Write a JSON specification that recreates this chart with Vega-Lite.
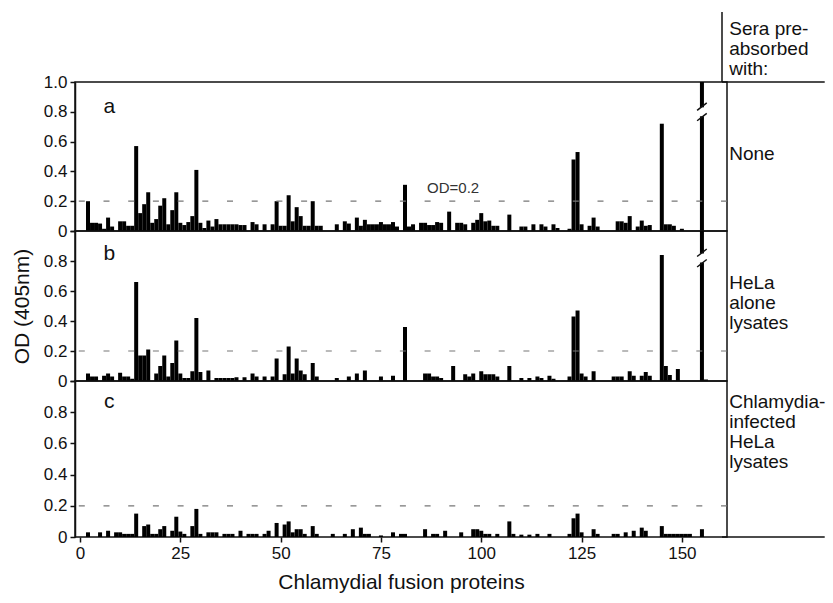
{
  "$schema": "https://vega.github.io/schema/vega-lite/v6.json",
  "padding": {"left": 10, "top": 10, "right": 0, "bottom": 4},
  "spacing": 0,
  "bounds": "flush",
  "config": {
    "font": "Liberation Sans",
    "view": {"stroke": "#111", "strokeWidth": 1.5},
    "axis": {"domainColor": "#111", "domainWidth": 1.5, "tickColor": "#111", "tickWidth": 1.5, "tickSize": 5, "labelFontSize": 17, "labelColor": "#111", "titleFontSize": 21, "titleFontWeight": "normal", "titleColor": "#111", "grid": false, "labelPadding": 3, "labelOverlap": false, "labelBound": false}
  },
  "datasets": {
    "bars": [
      {"panel":"a","protein":2,"od":0.2},{"panel":"a","protein":3,"od":0.055},{"panel":"a","protein":4,"od":0.055},{"panel":"a","protein":5,"od":0.05},{"panel":"a","protein":6,"od":0.015},{"panel":"a","protein":7,"od":0.09},{"panel":"a","protein":8,"od":0.03},{"panel":"a","protein":10,"od":0.065},{"panel":"a","protein":11,"od":0.065},{"panel":"a","protein":12,"od":0.035},{"panel":"a","protein":13,"od":0.035},{"panel":"a","protein":14,"od":0.57},{"panel":"a","protein":15,"od":0.12},{"panel":"a","protein":16,"od":0.18},{"panel":"a","protein":17,"od":0.26},{"panel":"a","protein":18,"od":0.055},{"panel":"a","protein":19,"od":0.08},{"panel":"a","protein":20,"od":0.17},{"panel":"a","protein":21,"od":0.22},{"panel":"a","protein":22,"od":0.045},{"panel":"a","protein":23,"od":0.14},{"panel":"a","protein":24,"od":0.26},{"panel":"a","protein":25,"od":0.055},{"panel":"a","protein":26,"od":0.04},{"panel":"a","protein":27,"od":0.06},{"panel":"a","protein":28,"od":0.1},{"panel":"a","protein":29,"od":0.41},{"panel":"a","protein":30,"od":0.055},{"panel":"a","protein":31,"od":0.02},{"panel":"a","protein":32,"od":0.07},{"panel":"a","protein":33,"od":0.03},{"panel":"a","protein":34,"od":0.08},{"panel":"a","protein":35,"od":0.045},{"panel":"a","protein":36,"od":0.045},{"panel":"a","protein":37,"od":0.045},{"panel":"a","protein":38,"od":0.045},{"panel":"a","protein":39,"od":0.045},{"panel":"a","protein":40,"od":0.04},{"panel":"a","protein":41,"od":0.04},{"panel":"a","protein":43,"od":0.06},{"panel":"a","protein":44,"od":0.045},{"panel":"a","protein":46,"od":0.045},{"panel":"a","protein":48,"od":0.045},{"panel":"a","protein":49,"od":0.2},{"panel":"a","protein":50,"od":0.035},{"panel":"a","protein":51,"od":0.035},{"panel":"a","protein":52,"od":0.24},{"panel":"a","protein":53,"od":0.065},{"panel":"a","protein":54,"od":0.16},{"panel":"a","protein":55,"od":0.1},{"panel":"a","protein":56,"od":0.035},{"panel":"a","protein":57,"od":0.035},{"panel":"a","protein":58,"od":0.2},{"panel":"a","protein":59,"od":0.035},{"panel":"a","protein":60,"od":0.035},{"panel":"a","protein":64,"od":0.045},{"panel":"a","protein":66,"od":0.065},{"panel":"a","protein":67,"od":0.05},{"panel":"a","protein":69,"od":0.09},{"panel":"a","protein":70,"od":0.035},{"panel":"a","protein":71,"od":0.075},{"panel":"a","protein":72,"od":0.045},{"panel":"a","protein":73,"od":0.045},{"panel":"a","protein":74,"od":0.045},{"panel":"a","protein":75,"od":0.06},{"panel":"a","protein":76,"od":0.045},{"panel":"a","protein":77,"od":0.045},{"panel":"a","protein":78,"od":0.06},{"panel":"a","protein":79,"od":0.03},{"panel":"a","protein":81,"od":0.31},{"panel":"a","protein":82,"od":0.03},{"panel":"a","protein":83,"od":0.045},{"panel":"a","protein":85,"od":0.055},{"panel":"a","protein":86,"od":0.055},{"panel":"a","protein":87,"od":0.04},{"panel":"a","protein":88,"od":0.04},{"panel":"a","protein":89,"od":0.06},{"panel":"a","protein":90,"od":0.055},{"panel":"a","protein":92,"od":0.13},{"panel":"a","protein":94,"od":0.055},{"panel":"a","protein":95,"od":0.055},{"panel":"a","protein":96,"od":0.045},{"panel":"a","protein":98,"od":0.055},{"panel":"a","protein":99,"od":0.075},{"panel":"a","protein":100,"od":0.12},{"panel":"a","protein":101,"od":0.065},{"panel":"a","protein":102,"od":0.07},{"panel":"a","protein":103,"od":0.035},{"panel":"a","protein":104,"od":0.035},{"panel":"a","protein":107,"od":0.11},{"panel":"a","protein":110,"od":0.03},{"panel":"a","protein":111,"od":0.03},{"panel":"a","protein":113,"od":0.045},{"panel":"a","protein":115,"od":0.045},{"panel":"a","protein":116,"od":0.03},{"panel":"a","protein":118,"od":0.045},{"panel":"a","protein":119,"od":0.02},{"panel":"a","protein":122,"od":0.015},{"panel":"a","protein":123,"od":0.48},{"panel":"a","protein":124,"od":0.53},{"panel":"a","protein":125,"od":0.045},{"panel":"a","protein":127,"od":0.035},{"panel":"a","protein":128,"od":0.09},{"panel":"a","protein":129,"od":0.03},{"panel":"a","protein":134,"od":0.065},{"panel":"a","protein":135,"od":0.065},{"panel":"a","protein":136,"od":0.055},{"panel":"a","protein":137,"od":0.1},{"panel":"a","protein":139,"od":0.03},{"panel":"a","protein":140,"od":0.07},{"panel":"a","protein":141,"od":0.035},{"panel":"a","protein":142,"od":0.04},{"panel":"a","protein":145,"od":0.72},{"panel":"a","protein":146,"od":0.045},{"panel":"a","protein":147,"od":0.045},{"panel":"a","protein":148,"od":0.035},{"panel":"a","protein":150,"od":0.015},{"panel":"a","protein":155,"od":1.3},
      {"panel":"b","protein":2,"od":0.05},{"panel":"b","protein":3,"od":0.03},{"panel":"b","protein":4,"od":0.03},{"panel":"b","protein":6,"od":0.035},{"panel":"b","protein":7,"od":0.05},{"panel":"b","protein":8,"od":0.03},{"panel":"b","protein":10,"od":0.055},{"panel":"b","protein":11,"od":0.03},{"panel":"b","protein":12,"od":0.03},{"panel":"b","protein":13,"od":0.015},{"panel":"b","protein":14,"od":0.66},{"panel":"b","protein":15,"od":0.17},{"panel":"b","protein":16,"od":0.17},{"panel":"b","protein":17,"od":0.21},{"panel":"b","protein":19,"od":0.05},{"panel":"b","protein":20,"od":0.1},{"panel":"b","protein":21,"od":0.17},{"panel":"b","protein":22,"od":0.03},{"panel":"b","protein":23,"od":0.12},{"panel":"b","protein":24,"od":0.27},{"panel":"b","protein":25,"od":0.05},{"panel":"b","protein":26,"od":0.02},{"panel":"b","protein":27,"od":0.02},{"panel":"b","protein":28,"od":0.065},{"panel":"b","protein":29,"od":0.42},{"panel":"b","protein":30,"od":0.06},{"panel":"b","protein":32,"od":0.07},{"panel":"b","protein":34,"od":0.02},{"panel":"b","protein":35,"od":0.02},{"panel":"b","protein":36,"od":0.02},{"panel":"b","protein":37,"od":0.02},{"panel":"b","protein":38,"od":0.02},{"panel":"b","protein":39,"od":0.025},{"panel":"b","protein":41,"od":0.025},{"panel":"b","protein":43,"od":0.05},{"panel":"b","protein":44,"od":0.03},{"panel":"b","protein":46,"od":0.03},{"panel":"b","protein":48,"od":0.03},{"panel":"b","protein":49,"od":0.15},{"panel":"b","protein":51,"od":0.045},{"panel":"b","protein":52,"od":0.23},{"panel":"b","protein":53,"od":0.05},{"panel":"b","protein":54,"od":0.15},{"panel":"b","protein":55,"od":0.07},{"panel":"b","protein":56,"od":0.045},{"panel":"b","protein":58,"od":0.12},{"panel":"b","protein":59,"od":0.03},{"panel":"b","protein":64,"od":0.02},{"panel":"b","protein":67,"od":0.03},{"panel":"b","protein":69,"od":0.05},{"panel":"b","protein":71,"od":0.07},{"panel":"b","protein":75,"od":0.03},{"panel":"b","protein":78,"od":0.035},{"panel":"b","protein":81,"od":0.36},{"panel":"b","protein":86,"od":0.05},{"panel":"b","protein":87,"od":0.05},{"panel":"b","protein":88,"od":0.03},{"panel":"b","protein":89,"od":0.03},{"panel":"b","protein":90,"od":0.02},{"panel":"b","protein":93,"od":0.1},{"panel":"b","protein":96,"od":0.045},{"panel":"b","protein":97,"od":0.03},{"panel":"b","protein":98,"od":0.05},{"panel":"b","protein":100,"od":0.065},{"panel":"b","protein":101,"od":0.045},{"panel":"b","protein":102,"od":0.045},{"panel":"b","protein":103,"od":0.045},{"panel":"b","protein":104,"od":0.03},{"panel":"b","protein":107,"od":0.1},{"panel":"b","protein":110,"od":0.02},{"panel":"b","protein":112,"od":0.02},{"panel":"b","protein":114,"od":0.03},{"panel":"b","protein":115,"od":0.02},{"panel":"b","protein":117,"od":0.035},{"panel":"b","protein":118,"od":0.015},{"panel":"b","protein":122,"od":0.03},{"panel":"b","protein":123,"od":0.43},{"panel":"b","protein":124,"od":0.47},{"panel":"b","protein":125,"od":0.05},{"panel":"b","protein":126,"od":0.03},{"panel":"b","protein":128,"od":0.065},{"panel":"b","protein":133,"od":0.03},{"panel":"b","protein":134,"od":0.03},{"panel":"b","protein":135,"od":0.03},{"panel":"b","protein":137,"od":0.065},{"panel":"b","protein":138,"od":0.035},{"panel":"b","protein":140,"od":0.035},{"panel":"b","protein":141,"od":0.06},{"panel":"b","protein":142,"od":0.035},{"panel":"b","protein":145,"od":0.84},{"panel":"b","protein":146,"od":0.1},{"panel":"b","protein":147,"od":0.04},{"panel":"b","protein":149,"od":0.08},{"panel":"b","protein":155,"od":1.2},{"panel":"b","protein":156,"od":0.01},
      {"panel":"c","protein":2,"od":0.03},{"panel":"c","protein":5,"od":0.03},{"panel":"c","protein":7,"od":0.04},{"panel":"c","protein":9,"od":0.03},{"panel":"c","protein":10,"od":0.03},{"panel":"c","protein":11,"od":0.02},{"panel":"c","protein":12,"od":0.02},{"panel":"c","protein":13,"od":0.02},{"panel":"c","protein":14,"od":0.15},{"panel":"c","protein":16,"od":0.07},{"panel":"c","protein":17,"od":0.08},{"panel":"c","protein":18,"od":0.02},{"panel":"c","protein":19,"od":0.02},{"panel":"c","protein":20,"od":0.05},{"panel":"c","protein":21,"od":0.07},{"panel":"c","protein":23,"od":0.04},{"panel":"c","protein":24,"od":0.13},{"panel":"c","protein":25,"od":0.035},{"panel":"c","protein":26,"od":0.02},{"panel":"c","protein":28,"od":0.07},{"panel":"c","protein":29,"od":0.18},{"panel":"c","protein":30,"od":0.02},{"panel":"c","protein":32,"od":0.03},{"panel":"c","protein":33,"od":0.03},{"panel":"c","protein":34,"od":0.03},{"panel":"c","protein":36,"od":0.02},{"panel":"c","protein":37,"od":0.02},{"panel":"c","protein":38,"od":0.02},{"panel":"c","protein":40,"od":0.04},{"panel":"c","protein":42,"od":0.02},{"panel":"c","protein":43,"od":0.02},{"panel":"c","protein":44,"od":0.02},{"panel":"c","protein":46,"od":0.02},{"panel":"c","protein":47,"od":0.04},{"panel":"c","protein":49,"od":0.09},{"panel":"c","protein":51,"od":0.08},{"panel":"c","protein":52,"od":0.1},{"panel":"c","protein":53,"od":0.03},{"panel":"c","protein":54,"od":0.05},{"panel":"c","protein":55,"od":0.05},{"panel":"c","protein":56,"od":0.02},{"panel":"c","protein":58,"od":0.07},{"panel":"c","protein":59,"od":0.02},{"panel":"c","protein":63,"od":0.02},{"panel":"c","protein":66,"od":0.02},{"panel":"c","protein":68,"od":0.05},{"panel":"c","protein":70,"od":0.06},{"panel":"c","protein":71,"od":0.02},{"panel":"c","protein":72,"od":0.02},{"panel":"c","protein":75,"od":0.01},{"panel":"c","protein":78,"od":0.03},{"panel":"c","protein":80,"od":0.02},{"panel":"c","protein":81,"od":0.02},{"panel":"c","protein":86,"od":0.05},{"panel":"c","protein":88,"od":0.02},{"panel":"c","protein":89,"od":0.02},{"panel":"c","protein":91,"od":0.04},{"panel":"c","protein":95,"od":0.03},{"panel":"c","protein":98,"od":0.05},{"panel":"c","protein":99,"od":0.05},{"panel":"c","protein":100,"od":0.04},{"panel":"c","protein":101,"od":0.02},{"panel":"c","protein":102,"od":0.02},{"panel":"c","protein":104,"od":0.02},{"panel":"c","protein":107,"od":0.1},{"panel":"c","protein":108,"od":0.02},{"panel":"c","protein":110,"od":0.015},{"panel":"c","protein":112,"od":0.015},{"panel":"c","protein":114,"od":0.02},{"panel":"c","protein":117,"od":0.02},{"panel":"c","protein":122,"od":0.02},{"panel":"c","protein":123,"od":0.12},{"panel":"c","protein":124,"od":0.15},{"panel":"c","protein":125,"od":0.03},{"panel":"c","protein":128,"od":0.05},{"panel":"c","protein":129,"od":0.02},{"panel":"c","protein":133,"od":0.02},{"panel":"c","protein":134,"od":0.02},{"panel":"c","protein":136,"od":0.03},{"panel":"c","protein":138,"od":0.04},{"panel":"c","protein":140,"od":0.06},{"panel":"c","protein":141,"od":0.04},{"panel":"c","protein":145,"od":0.07},{"panel":"c","protein":146,"od":0.02},{"panel":"c","protein":147,"od":0.02},{"panel":"c","protein":148,"od":0.02},{"panel":"c","protein":149,"od":0.02},{"panel":"c","protein":150,"od":0.02},{"panel":"c","protein":151,"od":0.02},{"panel":"c","protein":152,"od":0.02},{"panel":"c","protein":155,"od":0.05}
    ],
    "one": [{}]
  },
  "vconcat": [
    {
      "width": 652, "height": 149,
      "layer": [
        {
          "data": {"name": "bars"},
          "transform": [{"filter": "datum.panel == 'a'"}],
          "mark": {"type": "bar", "size": 4, "color": "#000", "clip": true},
          "encoding": {
            "x": {"field": "protein", "type": "quantitative", "scale": {"domain": [0, 160], "nice": false, "zero": false}, "axis": null},
            "y": {"field": "od", "type": "quantitative", "scale": {"domain": [0, 1], "nice": false}, "axis": {"tickCount": 5, "labelOverlap": false, "labelExpr": "datum.value == 0 ? '0' : format(datum.value, '.1f')", "title": null}}
          }
        },
        {"data": {"name": "one"}, "mark": {"type": "rule", "strokeDash": [6, 18.7], "color": "#777", "strokeWidth": 1.2}, "encoding": {"y": {"datum": 0.2}}},
        {"data": {"name": "one"}, "mark": {"type": "rect", "color": "white"}, "encoding": {"x": {"datum": 154.3}, "x2": {"datum": 155.7}, "y": {"datum": 0.77}, "y2": {"datum": 0.83}}},
        {"data": {"name": "one"}, "mark": {"type": "rule", "color": "#111", "strokeWidth": 1.5}, "encoding": {"x": {"datum": 153.8}, "x2": {"datum": 156.2}, "y": {"datum": 0.74}, "y2": {"datum": 0.79}}},
        {"data": {"name": "one"}, "mark": {"type": "rule", "color": "#111", "strokeWidth": 1.5}, "encoding": {"x": {"datum": 153.8}, "x2": {"datum": 156.2}, "y": {"datum": 0.81}, "y2": {"datum": 0.86}}},
        {"data": {"name": "one"}, "mark": {"type": "text", "fontSize": 15, "color": "#333"}, "encoding": {"x": {"datum": 93}, "y": {"datum": 0.29}, "text": {"value": "OD=0.2"}}},
        {"data": {"name": "one"}, "mark": {"type": "text", "fontSize": 21, "color": "#111", "baseline": "alphabetic"}, "encoding": {"x": {"datum": 7.3}, "y": {"datum": 0.79}, "text": {"value": "a"}}},
        {"data": {"name": "one"}, "mark": {"type": "rule", "color": "#111", "strokeWidth": 1.5}, "encoding": {"x": {"datum": 160}, "x2": {"datum": 185.6}, "y": {"datum": 1}}},
        {"data": {"name": "one"}, "mark": {"type": "rule", "color": "#111", "strokeWidth": 1.5}, "encoding": {"x": {"datum": 160}, "y": {"datum": 1}, "y2": {"datum": 1.47}}},
        {"data": {"name": "one"}, "mark": {"type": "text", "fontSize": 19, "color": "#111", "align": "left", "baseline": "middle", "lineBreak": "\n", "lineHeight": 20}, "encoding": {"x": {"datum": 161.8}, "y": {"datum": 1.356}, "text": {"value": "Sera pre-\nabsorbed\nwith:"}}},
        {"data": {"name": "one"}, "mark": {"type": "text", "fontSize": 19, "color": "#111", "align": "left", "baseline": "middle"}, "encoding": {"x": {"datum": 161.8}, "y": {"datum": 0.52}, "text": {"value": "None"}}}
      ]
    },
    {
      "width": 652, "height": 150,
      "layer": [
        {
          "data": {"name": "bars"},
          "transform": [{"filter": "datum.panel == 'b'"}],
          "mark": {"type": "bar", "size": 4, "color": "#000", "clip": true},
          "encoding": {
            "x": {"field": "protein", "type": "quantitative", "scale": {"domain": [0, 160], "nice": false, "zero": false}, "axis": null},
            "y": {"field": "od", "type": "quantitative", "scale": {"domain": [0, 1], "nice": false}, "axis": {"tickCount": 5, "labelOverlap": false, "labelExpr": "datum.value == 0 ? '0' : datum.value > 0.9 ? '' : format(datum.value, '.1f')", "title": "OD (405nm)", "titlePadding": 11}}
          }
        },
        {"data": {"name": "one"}, "mark": {"type": "rule", "strokeDash": [6, 18.7], "color": "#777", "strokeWidth": 1.2}, "encoding": {"y": {"datum": 0.2}}},
        {"data": {"name": "one"}, "mark": {"type": "rect", "color": "white"}, "encoding": {"x": {"datum": 154.3}, "x2": {"datum": 155.7}, "y": {"datum": 0.79}, "y2": {"datum": 0.85}}},
        {"data": {"name": "one"}, "mark": {"type": "rule", "color": "#111", "strokeWidth": 1.5}, "encoding": {"x": {"datum": 153.8}, "x2": {"datum": 156.2}, "y": {"datum": 0.76}, "y2": {"datum": 0.81}}},
        {"data": {"name": "one"}, "mark": {"type": "rule", "color": "#111", "strokeWidth": 1.5}, "encoding": {"x": {"datum": 153.8}, "x2": {"datum": 156.2}, "y": {"datum": 0.83}, "y2": {"datum": 0.88}}},
        {"data": {"name": "one"}, "mark": {"type": "text", "fontSize": 21, "color": "#111", "baseline": "alphabetic"}, "encoding": {"x": {"datum": 7.3}, "y": {"datum": 0.81}, "text": {"value": "b"}}},
        {"data": {"name": "one"}, "mark": {"type": "text", "fontSize": 19, "color": "#111", "align": "left", "baseline": "middle", "lineBreak": "\n", "lineHeight": 20}, "encoding": {"x": {"datum": 161.8}, "y": {"datum": 0.653}, "text": {"value": "HeLa\nalone\nlysates"}}}
      ]
    },
    {
      "width": 652, "height": 156,
      "layer": [
        {
          "data": {"name": "bars"},
          "transform": [{"filter": "datum.panel == 'c'"}],
          "mark": {"type": "bar", "size": 4, "color": "#000", "clip": true},
          "encoding": {
            "x": {"field": "protein", "type": "quantitative", "scale": {"domain": [0, 160], "nice": false, "zero": false}, "axis": {"values": [0, 25, 50, 75, 100, 125, 150], "labelOverlap": false, "title": "Chlamydial fusion proteins", "labelFlush": false, "titlePadding": 10, "domain": false}},
            "y": {"field": "od", "type": "quantitative", "scale": {"domain": [0, 1], "nice": false}, "axis": {"tickCount": 5, "labelOverlap": false, "labelExpr": "datum.value == 0 ? '0' : datum.value > 0.9 ? '' : format(datum.value, '.1f')", "title": null}}
          }
        },
        {"data": {"name": "one"}, "mark": {"type": "rule", "strokeDash": [6, 18.7], "color": "#777", "strokeWidth": 1.2}, "encoding": {"y": {"datum": 0.2}}},
        {"data": {"name": "one"}, "mark": {"type": "text", "fontSize": 21, "color": "#111", "baseline": "alphabetic"}, "encoding": {"x": {"datum": 7.3}, "y": {"datum": 0.83}, "text": {"value": "c"}}},
        {"data": {"name": "one"}, "mark": {"type": "rule", "color": "#111", "strokeWidth": 1.5}, "encoding": {"x": {"datum": 160}, "x2": {"datum": 185.6}, "y": {"datum": 0}}},
        {"data": {"name": "one"}, "mark": {"type": "text", "fontSize": 19, "color": "#111", "align": "left", "baseline": "middle", "lineBreak": "\n", "lineHeight": 20}, "encoding": {"x": {"datum": 161.8}, "y": {"datum": 0.865}, "text": {"value": "Chlamydia-\ninfected\nHeLa\nlysates"}}}
      ]
    }
  ]
}
